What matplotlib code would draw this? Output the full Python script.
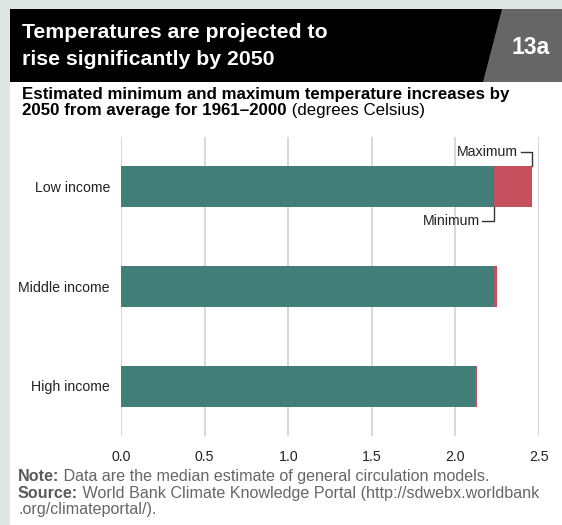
import matplotlib
matplotlib.use("Agg")
import matplotlib.pyplot as plt
from matplotlib.patches import Rectangle, Polygon

# data (degrees Celsius)
categories = ["Low income", "Middle income", "High income"]
min_incr   = [2.23, 2.23, 2.12]
max_incr   = [2.46, 2.25, 2.13]
x_ticks    = [0.0, 0.5, 1.0, 1.5, 2.0, 2.5]

TEAL   = "#417f78"
RED    = "#c64f5d"
BORDER = "#dfe7e4"
GRID   = "#d9d9d9"
HEAD   = ["Liberation Sans", "DejaVu Sans"]
LABEL  = ["Liberation Sans", "DejaVu Sans"]
LSIZE  = 10.2

W, H = 562, 525
fig = plt.figure(figsize=(W / 100, H / 100), dpi=100, facecolor=BORDER)

def fx(px): return px / W
def fy(py): return 1 - py / H

# white panel, black title bar, grey tab
fig.patches.append(Rectangle((fx(10), 0), 1 - fx(10), fy(9), transform=fig.transFigure,
                             facecolor="white", edgecolor="none", zorder=-2))
fig.patches.append(Rectangle((fx(10), fy(82)), 1 - fx(10), fy(9) - fy(82),
                             transform=fig.transFigure, facecolor="black",
                             edgecolor="none", zorder=-1))
fig.patches.append(Polygon([(fx(502), fy(9)), (1, fy(9)), (1, fy(82)), (fx(483), fy(82))],
                           closed=True, transform=fig.transFigure,
                           facecolor="#666666", edgecolor="none", zorder=-1))

fig.text(fx(22), fy(38), "Temperatures are projected to", color="white",
         fontsize=15.3, fontweight="bold", family=HEAD, va="baseline")
fig.text(fx(22), fy(65), "rise significantly by 2050", color="white",
         fontsize=15.3, fontweight="bold", family=HEAD, va="baseline")
fig.text(fx(550), fy(54), "13a", color="white", fontsize=16.5, fontweight="bold",
         family=HEAD, va="baseline", ha="right")

renderer = fig.canvas.get_renderer()

def runs(x_px, y_px, parts, size, base_color):
    # pieces of one line, set one after the other on a shared baseline
    x = fx(x_px)
    for txt, weight, col in parts:
        t = fig.text(x, fy(y_px), txt, fontsize=size, fontweight=weight,
                     family=HEAD, color=col or base_color, va="baseline")
        bb = t.get_window_extent(renderer)
        x = bb.x1 / W

runs(22, 99, [("Estimated minimum and maximum temperature increases by", "bold", None)],
     12.2, "black")
runs(22, 115, [("2050 from average for 1961\u20132000", "bold", None),
               (" (degrees Celsius)", "normal", None)], 12.2, "black")

runs(18, 481, [("Note:", "bold", "#5a5a5a"),
               (" Data are the median estimate of general circulation models.", "normal", "#666666")],
     11.6, "#666666")
runs(18, 498, [("Source:", "bold", "#5a5a5a"),
               (" World Bank Climate Knowledge Portal (http://sdwebx.worldbank", "normal", "#666666")],
     11.6, "#666666")
runs(18, 514, [(".org/climateportal/).", "normal", "#666666")], 11.6, "#666666")

# bar chart
ax = fig.add_axes([fx(121), fy(436), fx(539) - fx(121), fy(137) - fy(436)])
ax.set_zorder(5)
ax.set_facecolor("none")
ypos = list(range(len(categories)))
extra = [mx - mn for mn, mx in zip(min_incr, max_incr)]
ax.barh(ypos, min_incr, height=0.41, color=TEAL, zorder=3)
ax.barh(ypos, extra, left=min_incr, height=0.41, color=RED, zorder=3)

ax.set_xlim(0, 2.5)
ax.set_ylim(2.5, -0.49)
ax.set_xticks(x_ticks)
ax.set_xticklabels([f"{v:.1f}" for v in x_ticks], family=LABEL, fontsize=LSIZE)
ax.set_yticks(ypos)
ax.set_yticklabels(categories, family=LABEL, fontsize=LSIZE)
ax.tick_params(axis="both", length=0, colors="#222222")
ax.tick_params(axis="x", pad=10)
ax.tick_params(axis="y", pad=8)
ax.grid(axis="x", color=GRID, lw=1.5, zorder=0)
for s in ax.spines.values():
    s.set_visible(False)

# range annotations on the low income bar
top = 0 - 0.41 / 2
bot = 0 + 0.41 / 2
ax.plot([max_incr[0] - 0.07, max_incr[0], max_incr[0]], [-0.34, -0.34, top],
        color="#333333", lw=1, zorder=4, clip_on=False)
ax.text(max_incr[0] - 0.085, -0.34, "Maximum", ha="right", va="center",
        family=LABEL, fontsize=LSIZE, color="#222222")
ax.plot([min_incr[0] - 0.07, min_incr[0], min_incr[0]], [0.35, 0.35, bot],
        color="#333333", lw=1, zorder=4, clip_on=False)
ax.text(min_incr[0] - 0.085, 0.35, "Minimum", ha="right", va="center",
        family=LABEL, fontsize=LSIZE, color="#222222")

fig.savefig("out.png", dpi=100, facecolor=BORDER)
